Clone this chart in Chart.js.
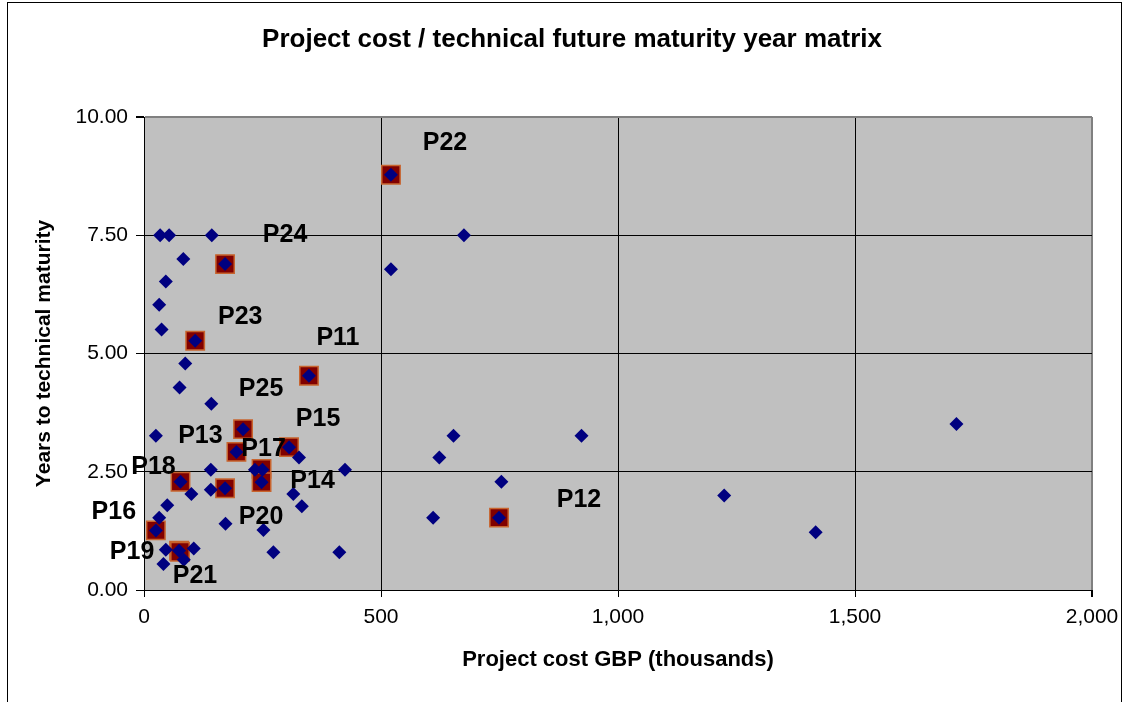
<!DOCTYPE html>
<html>
<head>
<meta charset="utf-8">
<script src="https://cdn.jsdelivr.net/npm/chart.js@4/dist/chart.umd.min.js"></script>
<style>
  body { margin: 0; background: #fff; }
  #wrap { width: 1128px; height: 702px; }
</style>
</head>
<body>
<div id="wrap"><canvas id="matrix" width="1128" height="702"></canvas></div>
<script>
// project cost (GBP thousands) and years to technical maturity
let costs = [34, 53, 143, 83, 171, 46, 32, 521, 675, 521, 37, 108, 87, 75, 142, 348, 209, 25, 306, 195,
  327, 141, 77, 100, 141, 171, 234, 250, 248, 424, 315, 333, 49, 32, 25, 172, 252, 46, 74, 105,
  84, 41, 273, 412, 653, 623, 923, 754, 610, 749, 1714, 1224, 1417];
let years = [7.5, 7.5, 7.5, 7.0, 6.89, 6.52, 6.03, 8.78, 7.5, 6.78, 5.51, 5.27, 4.79, 4.28, 3.94, 4.53, 3.40, 3.26, 3.02, 2.92,
  2.80, 2.54, 2.29, 2.03, 2.12, 2.15, 2.54, 2.54, 2.28, 2.54, 2.03, 1.77, 1.79, 1.53, 1.26, 1.40, 1.27, 0.85, 0.83, 0.88,
  0.64, 0.55, 0.80, 0.80, 3.26, 2.80, 3.26, 2.29, 1.53, 1.53, 3.51, 2.0, 1.22];

// highlighted projects
let hlNames = ['P22', 'P24', 'P23', 'P11', 'P25', 'P15', 'P13', 'P17', 'P18', 'P14', 'P20', 'P16', 'P19', 'P21', 'P12'];
let hlCosts = [521, 171, 108, 348, 209, 306, 195, 248, 77, 248, 171, 25, 74, 76, 749];
let hlYears = [8.78, 6.89, 5.27, 4.53, 3.40, 3.02, 2.92, 2.56, 2.29, 2.28, 2.15, 1.26, 0.83, 0.81, 1.53];

let xTicks = [0, 500, 1000, 1500, 2000];
let yTicks = [0, 2.5, 5, 7.5, 10];

// label offsets in px from the point (style only)
let labelShift = [[54, -32], [60, -29], [45, -24], [29, -38], [18, -40], [29, -28], [-36, -16], [2, -20],
  [-27, -15], [51, -1], [36, 29], [-42, -18], [-47, 1], [15, 24], [80, -18]];

const FONT = 'Arial, "Liberation Sans", sans-serif';

const frame = {
  id: 'frame',
  beforeDraw(chart) {
    let c = chart.ctx, a = chart.chartArea;
    c.save();
    c.fillStyle = '#fff';
    c.fillRect(0, 0, chart.width, chart.height);
    c.strokeStyle = '#000';
    c.lineWidth = 1;
    c.strokeRect(7.5, 2.5, 1114, 710);
    c.fillStyle = '#c0c0c0';
    c.fillRect(a.left, a.top, a.right - a.left, a.bottom - a.top);
    c.fillStyle = '#000';
    c.font = 'bold 26px ' + FONT;
    c.textAlign = 'center';
    c.textBaseline = 'middle';
    c.fillText('Project cost / technical future maturity year matrix', 572, 40);
    c.restore();
  },
  afterDatasetsDraw(chart) {
    let c = chart.ctx;
    let xs = chart.scales.x, ys = chart.scales.y;
    c.save();
    c.fillStyle = '#000';
    c.font = 'bold 25px ' + FONT;
    c.textAlign = 'center';
    c.textBaseline = 'middle';
    hlNames.forEach((n, i) => {
      let px = xs.getPixelForValue(hlCosts[i]) + labelShift[i][0];
      let py = ys.getPixelForValue(hlYears[i]) + labelShift[i][1];
      c.fillText(n, px, py);
    });
    c.restore();
  }
};

new Chart(document.getElementById('matrix').getContext('2d'), {
  type: 'scatter',
  data: {
    datasets: [{
      label: 'Projects',
      data: costs.map((x, i) => ({x: x, y: years[i]})),
      pointStyle: 'rectRot',
      pointRadius: 7,
      backgroundColor: '#000080',
      borderColor: '#000080',
      borderWidth: 0,
    },
    {
      label: 'Highlighted',
      data: hlCosts.map((x, i) => ({x: x, y: hlYears[i]})),
      pointStyle: 'rect',
      pointRadius: 13,
      backgroundColor: '#800000',
      borderColor: '#c8642e',
      borderWidth: 1.5,
    }]
  },
  options: {
    responsive: false,
    animation: false,
    events: [],
    layout: { padding: { left: 0, right: 36, top: 117, bottom: 0 } },
    plugins: {
      legend: { display: false },
      tooltip: { enabled: false },
      title: { display: false }
    },
    scales: {
      x: {
        type: 'linear',
        min: 0,
        max: 2000,
        afterFit: s => { s.height = 112; },
        afterBuildTicks: s => { s.ticks = xTicks.map(v => ({value: v})); },
        ticks: {
          color: '#000',
          font: { family: FONT, size: 21 },
          padding: 8,
          maxRotation: 0,
          callback: v => v.toLocaleString('en-US')
        },
        grid: {
          color: c => c.tick && c.tick.value === 2000 ? '#808080' : '#000',
          lineWidth: c => c.tick && c.tick.value === 2000 ? 2 : 1,
          tickColor: '#000',
          tickLength: 7
        },
        border: { color: '#000', width: 1 },
        title: {
          display: true,
          text: 'Project cost GBP (thousands)',
          color: '#000',
          font: { family: FONT, size: 22, weight: 'bold' },
          padding: { bottom: 29 }
        }
      },
      y: {
        type: 'linear',
        min: 0,
        max: 10,
        afterFit: s => { s.width = 144; },
        afterBuildTicks: s => { s.ticks = yTicks.map(v => ({value: v})); },
        ticks: {
          color: '#000',
          font: { family: FONT, size: 21 },
          padding: 8,
          callback: v => v.toFixed(2)
        },
        grid: {
          color: c => c.tick && c.tick.value === 10 ? '#808080' : '#000',
          lineWidth: c => c.tick && c.tick.value === 10 ? 2 : 1,
          tickColor: '#000',
          tickLength: 8
        },
        border: { color: '#000', width: 1 },
        title: {
          display: true,
          text: 'Years to technical maturity',
          color: '#000',
          font: { family: FONT, size: 21, weight: 'bold' },
          padding: { top: 32 }
        }
      }
    }
  },
  plugins: [frame]
});
</script>
</body>
</html>
